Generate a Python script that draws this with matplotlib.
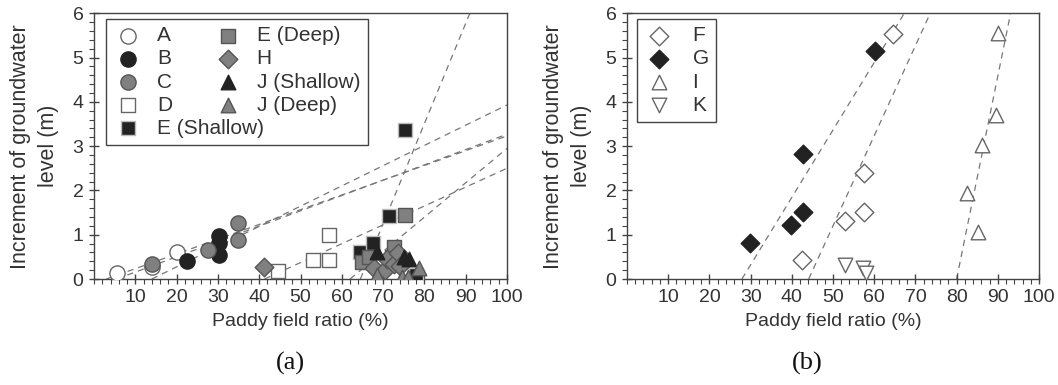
import matplotlib
matplotlib.use("Agg")
import matplotlib.pyplot as plt
import numpy as np

plt.rcParams['font.family'] = ['Liberation Sans', 'DejaVu Sans']

# ---------------- data: panel (a) ----------------
A_x = [5.5, 14.0, 20.0]
A_y = [0.14, 0.28, 0.62]
B_x = [22.5, 30.3, 30.3, 30.3]
B_y = [0.41, 0.54, 0.82, 0.97]
C_x = [14.0, 27.5, 34.8, 34.8]
C_y = [0.35, 0.65, 0.88, 1.26]
D_x = [44.5, 53.0, 57.0, 57.0]
D_y = [0.17, 0.43, 0.43, 0.99]
Esh_x = [78.0, 64.3, 67.5, 71.5, 75.4]
Esh_y = [0.10, 0.60, 0.81, 1.43, 3.37]
Edp_x = [64.8, 66.5, 72.2, 72.6, 75.2]
Edp_y = [0.38, 0.50, 0.50, 0.73, 1.44]
H_x = [41.1, 67.8, 70.5, 71.0, 72.6, 73.5, 74.0]
H_y = [0.26, 0.25, 0.20, 0.45, 0.35, 0.58, 0.30]
Jsh_x = [68.5, 75.0, 76.3]
Jsh_y = [0.62, 0.50, 0.45]
Jdp_x = [68.5, 74.5, 76.0, 78.8]
Jdp_y = [0.09, 0.05, 0.05, 0.24]

# fitted trend lines (x-intercept, slope)
a_line_x0 = [3.0, 5.5, 14.0, 41.3, 62.0, 64.5]
a_line_slope = [0.0333, 0.0346, 0.0457, 0.0426, 0.0776, 0.2264]

# ---------------- data: panel (b) ----------------
F_x = [42.4, 52.8, 57.6, 57.6, 64.5]
F_y = [0.43, 1.30, 1.52, 2.39, 5.53]
G_x = [29.9, 39.9, 42.7, 42.7, 60.2]
G_y = [0.81, 1.22, 1.51, 2.82, 5.15]
I_x = [82.6, 85.2, 86.2, 89.6, 90.1]
I_y = [1.95, 1.07, 3.03, 3.70, 5.55]
K_x = [52.9, 57.3, 58.1]
K_y = [0.32, 0.24, 0.14]

b_line_x0 = [27.9, 44.1, 80.0]
b_line_slope = [0.1523, 0.2034, 0.4580]

xticks = [10, 20, 30, 40, 50, 60, 70, 80, 90, 100]
yticks = [0, 1, 2, 3, 4, 5, 6]

BLACK = '#222222'
GRAY = '#808080'
GEDGE = '#555555'
OEDGE = '#666666'
TXT = '#333333'
SP = '#444444'

W, H = 1058, 385
fig = plt.figure(figsize=(W / 100, H / 100), dpi=100)


def add_ax(l, r, t, b):
    return fig.add_axes([l / W, 1 - b / H, (r - l) / W, (b - t) / H])


def style(ax):
    ax.set_xlim(0, 100)
    ax.set_ylim(0, 6)
    ax.set_xticks(xticks)
    ax.set_xticks(np.arange(0, 101, 2), minor=True)
    ax.set_yticks(yticks)
    ax.set_yticks(np.arange(0, 6.01, 0.2), minor=True)
    ax.tick_params(which='major', direction='inout', length=7, width=1,
                   color=SP, labelsize=14, labelcolor=TXT, pad=4)
    ax.tick_params(which='minor', direction='out', length=3.5, width=0.8,
                   color=SP)
    for s in ax.spines.values():
        s.set_color(SP)
        s.set_linewidth(1.0)
    ax.set_xlabel('Paddy field ratio (%)', fontsize=14, color=TXT, labelpad=5)
    ax.set_ylabel('Increment of groundwater\nlevel (m)', fontsize=15.5,
                  color=TXT, linespacing=1.45)
    ax.yaxis.set_label_coords(-0.085, 0.5)


def trend(ax, x0s, slopes):
    for x0, m in zip(x0s, slopes):
        xs = np.array([x0, 100.0])
        ax.plot(xs, m * (xs - x0), ls=(0, (5, 4)), color='#777777',
                lw=0.9, zorder=1)


def style_legend(leg):
    fr = leg.get_frame()
    fr.set_edgecolor(SP)
    fr.set_linewidth(1.0)
    fr.set_alpha(1.0)
    fr.set_facecolor('white')
    for t in leg.get_texts():
        t.set_color(TXT)


# ---------------- panel (a) ----------------
ax1 = add_ax(94, 507, 13.3, 279)
trend(ax1, a_line_x0, a_line_slope)
S_C = 120
S_S = 110
S_D = 90
S_T = 110
kw = dict(zorder=3, linewidths=1.0)
ax1.scatter(A_x, A_y, s=S_C, marker='o', facecolor='white', edgecolor=OEDGE, label='A', **kw)
ax1.scatter(B_x, B_y, s=S_C, marker='o', facecolor=BLACK, edgecolor=BLACK, label='B', **kw)
ax1.scatter(C_x, C_y, s=S_C, marker='o', facecolor=GRAY, edgecolor=GEDGE, label='C', **kw)
ax1.scatter(D_x, D_y, s=S_S, marker='s', facecolor='white', edgecolor=OEDGE, label='D', **kw)
ax1.scatter(Esh_x, Esh_y, s=S_S, marker='s', facecolor=BLACK, edgecolor='#bbbbbb', label='E (Shallow)', **kw)
ax1.scatter(Edp_x, Edp_y, s=S_S, marker='s', facecolor=GRAY, edgecolor=GEDGE, label='E (Deep)', **kw)
ax1.scatter(H_x, H_y, s=S_D, marker='D', facecolor=GRAY, edgecolor=GEDGE, label='H', **kw)
ax1.scatter(Jsh_x, Jsh_y, s=S_T, marker='^', facecolor=BLACK, edgecolor=BLACK, label='J (Shallow)', **kw)
ax1.scatter(Jdp_x, Jdp_y, s=S_T, marker='^', facecolor=GRAY, edgecolor=GEDGE, label='J (Deep)', **kw)
style(ax1)
leg1 = ax1.legend(ncol=2, loc='upper left', bbox_to_anchor=(0.029, 0.979),
                  borderaxespad=0, fontsize=15, frameon=True, fancybox=False,
                  labelspacing=0.2, handletextpad=0.7, columnspacing=-2.45,
                  borderpad=0.35, handlelength=1.4, scatterpoints=1,
                  framealpha=1)
style_legend(leg1)

# ---------------- panel (b) ----------------
ax2 = add_ax(627, 1039, 13.3, 279)
trend(ax2, b_line_x0, b_line_slope)
ax2.scatter(F_x, F_y, s=S_D, marker='D', facecolor='white', edgecolor=OEDGE, label='F', **kw)
ax2.scatter(G_x, G_y, s=S_D, marker='D', facecolor=BLACK, edgecolor=BLACK, label='G', **kw)
ax2.scatter(I_x, I_y, s=S_T, marker='^', facecolor='white', edgecolor=OEDGE, label='I', **kw)
ax2.scatter(K_x, K_y, s=S_T, marker='v', facecolor='white', edgecolor=OEDGE, label='K', **kw)
style(ax2)
leg2 = ax2.legend(ncol=1, loc='upper left', bbox_to_anchor=(0.025, 0.979),
                  borderaxespad=0, fontsize=15, frameon=True, fancybox=False,
                  labelspacing=0.2, handletextpad=0.9, borderpad=0.35,
                  handlelength=1.4, scatterpoints=1, framealpha=1)
style_legend(leg2)

fig.text(290 / W, 1 - 363 / H, '(a)', ha='center', va='center', fontsize=19,
         family=['Liberation Serif', 'DejaVu Serif'], color='#111111')
fig.text(807 / W, 1 - 363 / H, '(b)', ha='center', va='center', fontsize=19,
         family=['Liberation Serif', 'DejaVu Serif'], color='#111111')

fig.savefig('out.png', dpi=100)
